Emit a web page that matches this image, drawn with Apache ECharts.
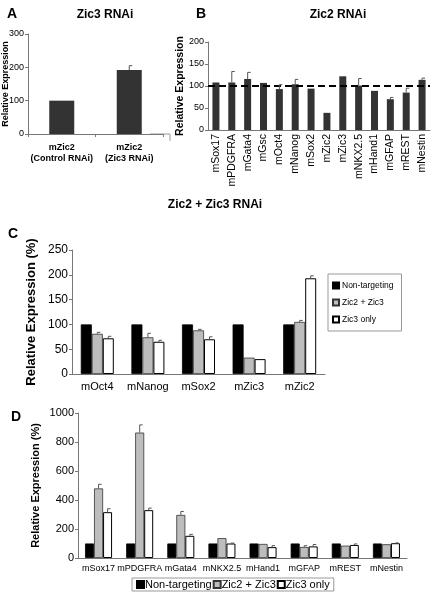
<!DOCTYPE html>
<html><head><meta charset="utf-8">
<script src="https://cdn.jsdelivr.net/npm/echarts@6/dist/echarts.min.js"></script>
<style>html,body{margin:0;padding:0;background:#fff}#c{width:432px;height:595px}</style>
</head><body><div id="c"></div>
<script>
// Panel A
const catA = ['mZic2\n(Control RNAi)', 'mZic2\n(Zic3 RNAi)'];
const valA = [100, 192];
const errA = [0, 13];
// Panel B
const catB = ['mSox17','mPDGFRA','mGata4','mGsc','mOct4','mNanog','mSox2','mZic2','mZic3','mNKX2.5','mHand1','mGFAP','mREST','mNestin'];
const valB = [108,108,116,107,93,104,94,39,122,101,89,70,85,114];
const errB = [0,25,15,0,10,11,0,0,0,16,0,4,10,4];
// Panel C
const catC = ['mOct4','mNanog','mSox2','mZic3','mZic2'];
const cNon = [100,100,100,100,100];
const cBoth = [81,74,88,33,105];
const cBothErr = [3,8,2,0,3];
const cZic3 = [72,65,70,30,193];
const cZic3Err = [4,3,5,0,5];
// Panel D
const catD = ['mSox17','mPDGFRA','mGata4','mNKX2.5','mHand1','mGFAP','mREST','mNestin'];
const dNon = [100,100,100,100,100,100,100,100];
const dBoth = [480,865,297,137,97,76,85,95];
const dBothErr = [28,53,24,0,0,9,0,0];
const dZic3 = [316,330,153,100,75,80,90,102];
const dZic3Err = [24,14,10,3,10,13,7,2];
const seriesNames = ['Non-targeting','Zic2 + Zic3','Zic3 only'];

const FF = 'Arial, "Liberation Sans", sans-serif';
const axisLine = {show:true, lineStyle:{color:'#777', width:1}};

function errSeries(xi, vals, errs, offset, capHalf){
  const data = vals.map((v,i)=>[i, v, errs[i]]).filter(d=>d[2]>0);
  return {
    type:'custom', xAxisIndex:xi, yAxisIndex:xi, silent:true, z:5,
    encode:{x:0,y:1},
    data,
    renderItem:function(params, api){
      const i = api.value(0), v = api.value(1), e = api.value(2);
      const p0 = api.coord([i, v]);
      const p1 = api.coord([i, v+e]);
      const cx = p0[0] + offset;
      return {type:'group', children:[
        {type:'line', shape:{x1:cx,y1:p0[1],x2:cx,y2:p1[1]}, style:{stroke:'#555',lineWidth:1}},
        {type:'line', shape:{x1:cx,y1:p1[1],x2:cx+capHalf,y2:p1[1]}, style:{stroke:'#555',lineWidth:1}}
      ]};
    }
  };
}

function yAx(gi, max, interval, name, nameSize, nameGap, labelSize){
  return {gridIndex:gi, type:'value', min:0, max:max, interval:interval,
    axisLine:axisLine, axisTick:{show:true, length:3, lineStyle:{color:'#777'}},
    splitLine:{show:false},
    axisLabel:{color:'#000', fontSize:labelSize, fontFamily:FF, margin:4, formatter:function(v){return String(v);}},
    name:name, nameLocation:'middle', nameGap:nameGap, nameRotate:90, nameMoveOverlap:false,
    nameTextStyle:{color:'#000', fontSize:nameSize, fontWeight:'bold', fontFamily:FF}};
}

const barStyle = [
  {color:'#000', borderColor:'#000', borderWidth:0.8},
  {color:'#bdbdbd', borderColor:'#333', borderWidth:0.8},
  {color:'#fff', borderColor:'#000', borderWidth:1}
];

const option = {
  animation:false,
  backgroundColor:'#fff',
  title:[
    {text:'A', left:2, top:2, textStyle:{fontSize:14, fontWeight:'bold', fontFamily:FF, color:'#000'}},
    {text:'Zic3 RNAi', left:100, top:4, textAlign:'center', textStyle:{fontSize:12, fontWeight:'bold', fontFamily:FF, color:'#000'}},
    {text:'B', left:191, top:2, textStyle:{fontSize:14, fontWeight:'bold', fontFamily:FF, color:'#000'}},
    {text:'Zic2 RNAi', left:333, top:4, textAlign:'center', textStyle:{fontSize:12, fontWeight:'bold', fontFamily:FF, color:'#000'}},
    {text:'Zic2 + Zic3 RNAi', left:210, top:194, textAlign:'center', textStyle:{fontSize:12, fontWeight:'bold', fontFamily:FF, color:'#000'}},
    {text:'C', left:3, top:222, textStyle:{fontSize:14, fontWeight:'bold', fontFamily:FF, color:'#000'}},
    {text:'D', left:6, top:405, textStyle:{fontSize:14, fontWeight:'bold', fontFamily:FF, color:'#000'}}
  ],
  legend:[
    {data:seriesNames, orient:'vertical', left:328, top:274, itemWidth:6, itemHeight:6, itemGap:8,
     padding:[7,8,7,4], borderColor:'#999', borderWidth:1, icon:'rect',
     textStyle:{fontSize:8.5, fontFamily:FF, color:'#000', padding:[0,0,0,-2]}},
    {data:seriesNames, orient:'horizontal', left:132, top:578, itemWidth:7, itemHeight:7, itemGap:1,
     padding:[1,4,1,4], borderColor:'#999', borderWidth:1, icon:'rect',
     textStyle:{fontSize:11, fontFamily:FF, color:'#000', padding:[0,0,0,-4]}}
  ],
  graphic:[
    {type:'polyline', shape:{points:[[150,134],[170,134],[170,141]]}, style:{stroke:'#999', fill:null, lineWidth:1}}
  ],
  grid:[
    {left:28, top:34, width:135, height:100},
    {left:208, top:42, width:222, height:88},
    {left:72, top:250, width:253, height:124},
    {left:78, top:413, width:329, height:145}
  ],
  xAxis:[
    {gridIndex:0, type:'category', data:catA, axisLine:axisLine, axisTick:{show:true, length:3, lineStyle:{color:'#777'}},
     axisLabel:{color:'#000', fontSize:9, fontWeight:'bold', fontFamily:FF, margin:8, lineHeight:11, interval:0}},
    {gridIndex:1, type:'category', data:catB, axisLine:axisLine, axisTick:{show:false},
     axisLabel:{color:'#000', fontSize:10.5, fontFamily:FF, rotate:90, margin:4, interval:0}},
    {gridIndex:2, type:'category', data:catC, axisLine:axisLine, axisTick:{show:false},
     axisLabel:{color:'#000', fontSize:11, fontFamily:FF, margin:7, interval:0}},
    {gridIndex:3, type:'category', data:catD, axisLine:axisLine, axisTick:{show:false},
     axisLabel:{color:'#000', fontSize:9, fontFamily:FF, margin:6, interval:0}}
  ],
  yAxis:[
    yAx(0, 300, 100, 'Relative Expression', 9, 18, 9),
    yAx(1, 200, 50, 'Relative Expression', 10.5, 22, 9),
    yAx(2, 250, 50, 'Relative Expression (%)', 13, 34, 12),
    yAx(3, 1000, 200, 'Relative Expression (%)', 11, 37, 11)
  ],
  series:[
    {type:'bar', xAxisIndex:0, yAxisIndex:0, data:valA, barWidth:25, itemStyle:{color:'#333'}},
    errSeries(0, valA, errA, 0, 3),
    {type:'bar', xAxisIndex:1, yAxisIndex:1, data:valB, barWidth:7, itemStyle:{color:'#333'},
     markLine:{silent:true, symbol:'none', label:{show:false}, lineStyle:{color:'#000', type:[7,4], width:1.8},
       data:[{yAxis:100}]}},
    errSeries(1, valB, errB, 0, 3),
    {name:seriesNames[0], type:'bar', xAxisIndex:2, yAxisIndex:2, data:cNon, barWidth:11, barGap:'0%', itemStyle:barStyle[0]},
    {name:seriesNames[1], type:'bar', xAxisIndex:2, yAxisIndex:2, data:cBoth, barWidth:11, barGap:'0%', itemStyle:barStyle[1]},
    {name:seriesNames[2], type:'bar', xAxisIndex:2, yAxisIndex:2, data:cZic3, barWidth:11, barGap:'0%', itemStyle:barStyle[2]},
    errSeries(2, cBoth, cBothErr, 0, 3),
    errSeries(2, cZic3, cZic3Err, 11, 3),
    {name:seriesNames[0], type:'bar', xAxisIndex:3, yAxisIndex:3, data:dNon, barWidth:9, barGap:'0%', itemStyle:barStyle[0]},
    {name:seriesNames[1], type:'bar', xAxisIndex:3, yAxisIndex:3, data:dBoth, barWidth:9, barGap:'0%', itemStyle:barStyle[1]},
    {name:seriesNames[2], type:'bar', xAxisIndex:3, yAxisIndex:3, data:dZic3, barWidth:9, barGap:'0%', itemStyle:barStyle[2]},
    errSeries(3, dBoth, dBothErr, 0, 3),
    errSeries(3, dZic3, dZic3Err, 9, 3)
  ]
};
const chart = echarts.init(document.getElementById('c'), null, {renderer:'canvas'});
chart.setOption(option);
</script></body></html>
